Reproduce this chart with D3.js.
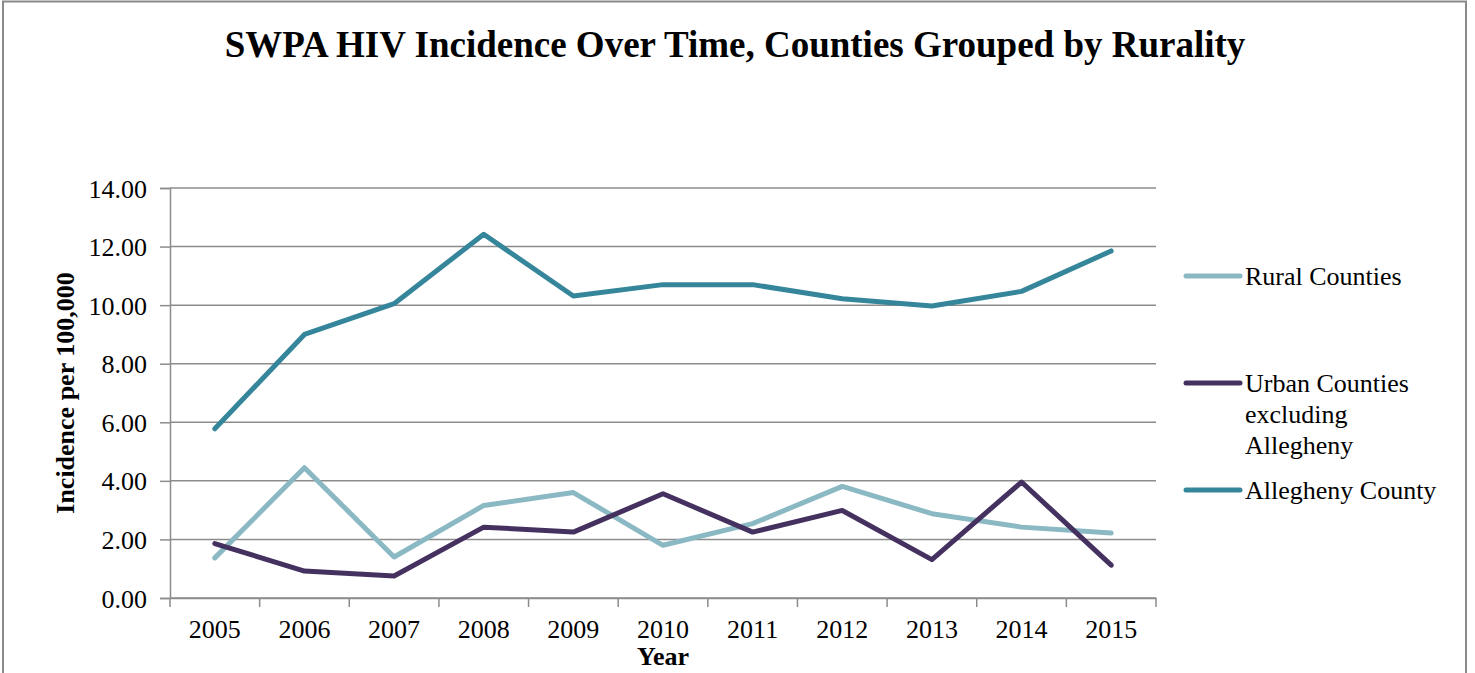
<!DOCTYPE html>
<html>
<head>
<meta charset="utf-8">
<script src="https://cdn.jsdelivr.net/npm/d3@7"></script>
<style>
    body { margin: 0; background: #fff; }
    text { font-family: "Liberation Serif", "Times New Roman", serif; fill: #000; }
</style>
</head>
<body>
<div id="my_dataviz"></div>
<script>
// Données
var years = ["2005", "2006", "2007", "2008", "2009", "2010", "2011", "2012", "2013", "2014", "2015"];
var rural = [1.37, 4.45, 1.40, 3.16, 3.60, 1.80, 2.54, 3.81, 2.88, 2.42, 2.22];
var urban = [1.86, 0.92, 0.75, 2.42, 2.25, 3.56, 2.25, 2.99, 1.31, 3.96, 1.12];
var allegheny = [5.78, 9.00, 10.05, 12.42, 10.31, 10.70, 10.70, 10.22, 9.97, 10.47, 11.85];
var yTicks = [0, 2, 4, 6, 8, 10, 12, 14];
var seriesNames = ["Rural Counties", "Urban Counties excluding Allegheny", "Allegheny County"];
var legendLines = [["Rural Counties"], ["Urban Counties", "excluding", "Allegheny"], ["Allegheny County"]];

var width = 1475,
    height = 673;

var plot = { left: 170, right: 1156, top: 188, bottom: 598 };

var series = [
    { name: seriesNames[0], values: rural, color: "#8ab8c3" },
    { name: seriesNames[1], values: urban, color: "#45315f" },
    { name: seriesNames[2], values: allegheny, color: "#36869b" }
];

var svg = d3.select("#my_dataviz")
    .append("svg")
    .attr("width", width)
    .attr("height", height);

// cadre extérieur
svg.append("rect")
    .attr("x", 3)
    .attr("y", 1.5)
    .attr("width", 1463)
    .attr("height", 690)
    .attr("fill", "none")
    .attr("stroke", "#8a8a8a")
    .attr("stroke-width", 2);

var x = d3.scaleBand()
    .domain(years)
    .range([plot.left, plot.right]);

var y = d3.scaleLinear()
    .domain([0, 14])
    .range([plot.bottom, plot.top]);

// grille horizontale
svg.selectAll("allGrid")
    .data(yTicks)
    .enter()
    .append("line")
    .attr("x1", plot.left)
    .attr("x2", plot.right)
    .attr("y1", d => y(d))
    .attr("y2", d => y(d))
    .attr("stroke", "#8c8c8c")
    .attr("stroke-width", 1.5);

// axe Y
var yAxis = svg.append("g")
    .attr("transform", "translate(" + plot.left + ",0)")
    .call(d3.axisLeft(y).tickValues(yTicks).tickFormat(d3.format(".2f")).tickSize(10).tickPadding(13));

// axe X
var xAxis = svg.append("g")
    .attr("transform", "translate(0," + plot.bottom + ")")
    .call(d3.axisBottom(x).tickSize(0).tickPadding(22));

// ticks X aux bords des bandes
svg.selectAll("allXTicks")
    .data(d3.range(years.length + 1))
    .enter()
    .append("line")
    .attr("x1", d => plot.left + d * x.step())
    .attr("x2", d => plot.left + d * x.step())
    .attr("y1", plot.bottom)
    .attr("y2", plot.bottom + 9)
    .attr("stroke", "#8c8c8c")
    .attr("stroke-width", 1.5);

[yAxis, xAxis].forEach(function(ax) {
    ax.attr("font-family", null).attr("font-size", null);
    ax.selectAll(".domain").attr("stroke", "#8c8c8c").attr("stroke-width", 1.5);
    ax.selectAll(".tick line").attr("stroke", "#8c8c8c").attr("stroke-width", 1.5);
    ax.selectAll(".tick text")
        .style("font-family", "'Liberation Serif', 'Times New Roman', serif")
        .style("font-size", "26px")
        .attr("fill", "#000");
});
yAxis.selectAll(".tick text").attr("dy", "0.35em");

// Création des lignes
var line = d3.line()
    .x((d, i) => x(years[i]) + x.bandwidth() / 2)
    .y(d => y(d));

svg.selectAll("allLines")
    .data(series)
    .enter()
    .append("path")
    .attr("d", d => line(d.values))
    .attr("fill", "none")
    .attr("stroke", d => d.color)
    .attr("stroke-width", 5)
    .attr("stroke-linejoin", "round")
    .attr("stroke-linecap", "round");

// titre
svg.append("text")
    .attr("x", 735)
    .attr("y", 57)
    .attr("text-anchor", "middle")
    .style("font-size", "37px")
    .style("font-weight", "bold")
    .text("SWPA HIV Incidence Over Time, Counties Grouped by Rurality");

// titres des axes
svg.append("text")
    .attr("x", (plot.left + plot.right) / 2)
    .attr("y", 665)
    .attr("text-anchor", "middle")
    .style("font-size", "26px")
    .style("font-weight", "bold")
    .text("Year");

svg.append("text")
    .attr("transform", "translate(74,393) rotate(-90)")
    .attr("text-anchor", "middle")
    .style("font-size", "26px")
    .style("font-weight", "bold")
    .text("Incidence per 100,000");

// légende
var legendY = [276, 383, 490];
var legend = svg.selectAll("allLegend")
    .data(series)
    .enter()
    .append("g")
    .attr("transform", (d, i) => "translate(1186," + legendY[i] + ")");

legend.append("line")
    .attr("x1", 0)
    .attr("x2", 54)
    .attr("stroke", d => d.color)
    .attr("stroke-width", 5)
    .attr("stroke-linecap", "round");

legend.append("text")
    .attr("x", 59)
    .attr("y", 0)
    .style("font-size", "26px")
    .selectAll("tspan")
    .data((d, i) => legendLines[i])
    .enter()
    .append("tspan")
    .attr("x", 59)
    .attr("dy", (d, i) => i === 0 ? "0.35em" : "1.19em")
    .text(d => d);
</script>
</body>
</html>
